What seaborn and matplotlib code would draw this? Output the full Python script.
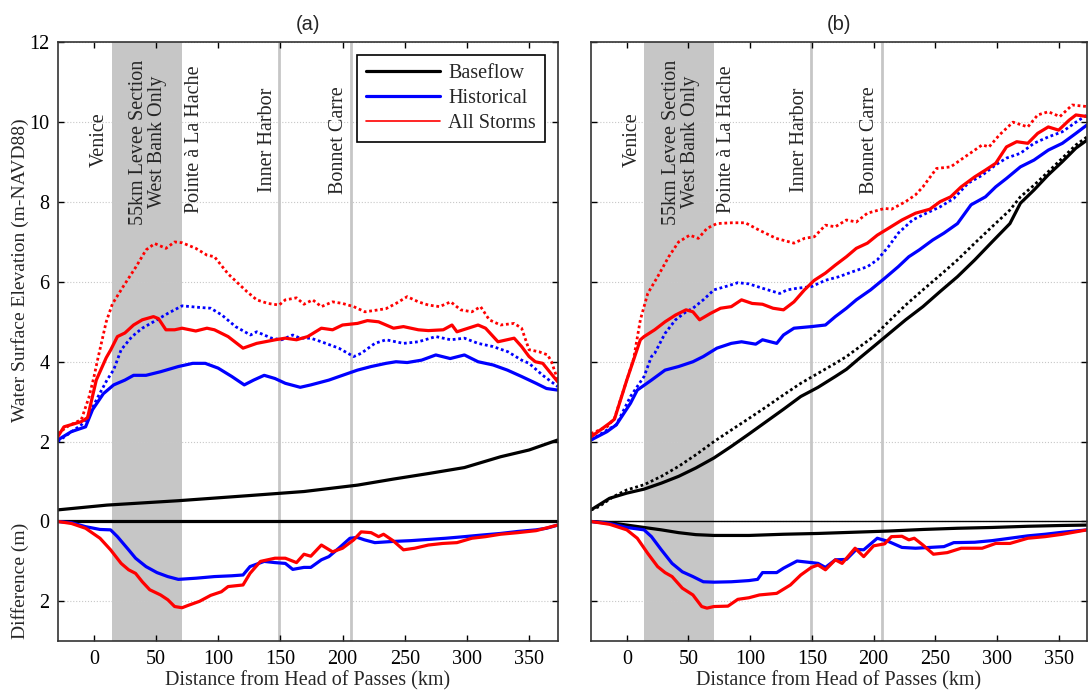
import matplotlib
matplotlib.use("Agg")
import matplotlib.pyplot as plt
from matplotlib.lines import Line2D
import seaborn as sns

# ---- panel (a) : water surface elevation (m-NAVD88) vs distance (km) ----
a_red_dot_km = [-29, -20, -10, -4, 0, 3, 10, 15, 19, 24, 34, 42, 49, 58, 65, 71, 82, 91, 97, 108,
                123, 131, 140, 149, 154, 163, 169, 176, 183, 192, 200, 209, 218, 229, 235, 243, 252, 261, 269, 278,
                287, 295, 304, 311, 318, 327, 338, 344, 350, 358, 365, 368, 373]
a_red_dot_m = [2.2, 2.4, 2.55, 3.1, 3.6, 4.04, 5.0, 5.45, 5.65, 5.9, 6.38, 6.8, 6.96, 6.84, 7.0, 6.98, 6.84, 6.67, 6.63, 6.2,
               5.76, 5.55, 5.46, 5.42, 5.55, 5.6, 5.44, 5.55, 5.38, 5.5, 5.46, 5.38, 5.25, 5.3, 5.33, 5.46, 5.63, 5.5, 5.42, 5.38,
               5.5, 5.3, 5.25, 5.38, 5.05, 4.92, 4.96, 4.84, 4.3, 4.25, 4.17, 4.0, 3.55]

a_red_km = [-29, -24, -10, -5, 2, 10, 13.5, 19, 25, 32, 39, 48, 52, 58, 65, 71, 82, 91, 97, 108,
            120, 131, 146, 154, 163, 172, 183, 192, 200, 212, 220, 229, 241, 249, 261, 269, 281, 288, 292, 301,
            309, 315, 325, 338, 344, 350, 355, 361, 373]
a_red_m = [2.12, 2.37, 2.5, 2.6, 3.54, 4.1, 4.29, 4.63, 4.72, 4.92, 5.05, 5.13, 5.08, 4.8, 4.8, 4.84, 4.77, 4.84, 4.8, 4.63,
           4.34, 4.46, 4.55, 4.59, 4.55, 4.63, 4.84, 4.8, 4.92, 4.96, 5.03, 5.0, 4.84, 4.88, 4.8, 4.78, 4.8, 4.92, 4.75, 4.84,
           4.92, 4.84, 4.5, 4.59, 4.38, 4.13, 4.0, 3.96, 3.5]

a_blue_dot_km = [-29, -10, -5, 3, 10.6, 16, 22, 30.7, 39, 48, 59.5, 71, 85, 94, 103, 114, 126, 131, 143, 151,
                 160, 166, 174.5, 183, 197, 209, 215, 226, 235, 249, 261, 275, 287, 298, 309, 321, 333, 344, 350, 361, 373]
a_blue_dot_m = [2.0, 2.42, 2.6, 3.1, 3.54, 3.8, 4.3, 4.63, 4.84, 5.0, 5.21, 5.4, 5.36, 5.34, 5.17, 4.88, 4.67, 4.75, 4.59, 4.55,
                4.67, 4.59, 4.59, 4.5, 4.34, 4.13, 4.21, 4.46, 4.55, 4.46, 4.5, 4.63, 4.55, 4.59, 4.46, 4.38, 4.25, 4.04, 3.96, 3.66, 3.38]

a_blue_km = [-29, -18, -6.6, -1, 7.7, 16, 25, 32, 42, 53.7, 68, 79.6, 89.6, 100, 111, 121, 128.5, 137, 145.7, 154,
             166, 174.5, 189, 200, 212, 223, 235, 243, 252, 263.6, 275, 286.6, 298, 309, 321, 332.6, 344, 355.6, 364, 373]
a_blue_m = [2.04, 2.25, 2.37, 2.8, 3.2, 3.42, 3.54, 3.66, 3.66, 3.75, 3.88, 3.96, 3.96, 3.84, 3.63, 3.42, 3.54, 3.66, 3.58, 3.46,
            3.36, 3.42, 3.54, 3.66, 3.79, 3.88, 3.96, 4.0, 3.98, 4.04, 4.17, 4.08, 4.17, 4.0, 3.92, 3.79, 3.63, 3.46, 3.33, 3.29]

a_base_km = [-29, 10.6, 68, 125.6, 169, 212, 240.6, 269, 298, 327, 350, 373]
a_base_m = [0.29, 0.41, 0.52, 0.65, 0.75, 0.91, 1.06, 1.2, 1.35, 1.62, 1.79, 2.04]

# differences (m), drawn downward from 0
a_base_diff_km = [-29, 373]
a_base_diff = [0.0, 0.0]

a_blue_diff_km = [-29, -18, -6.6, 5, 13.5, 19, 28, 33.6, 42, 50.8, 59.5, 68, 82.5, 97, 111, 120, 125.6, 137, 145.7, 154,
                  160, 169, 174.5, 183, 189, 197, 206, 212, 217.6, 226, 240.6, 255, 269, 283, 298, 312, 327, 341, 355.6, 364, 373]
a_blue_diff = [0, 0.03, 0.13, 0.2, 0.21, 0.38, 0.71, 0.92, 1.13, 1.28, 1.38, 1.45, 1.42, 1.38, 1.36, 1.34, 1.13, 1.0, 1.03, 1.05,
               1.2, 1.15, 1.15, 0.96, 0.88, 0.67, 0.42, 0.4, 0.46, 0.53, 0.5, 0.48, 0.45, 0.42, 0.38, 0.34, 0.3, 0.25, 0.21, 0.17, 0.09]

a_red_diff_km = [-29, -18, -6.6, 5, 13.5, 22, 28, 33.6, 39, 45, 53.7, 59.5, 65, 71, 76, 85, 94, 102.6, 108, 120,
                 125.6, 134, 145.7, 154, 163, 169, 174.5, 183, 192, 200, 209, 215, 223, 229, 233, 240.6, 249, 258, 269, 280.6,
                 292, 304, 315, 327, 341, 355.6, 373]
a_red_diff = [0, 0.05, 0.17, 0.42, 0.71, 1.05, 1.21, 1.3, 1.51, 1.71, 1.84, 1.96, 2.13, 2.16, 2.1, 2.0, 1.85, 1.76, 1.63, 1.59,
              1.3, 1.0, 0.92, 0.92, 1.03, 0.82, 0.87, 0.59, 0.76, 0.67, 0.46, 0.26, 0.28, 0.38, 0.32, 0.48, 0.71, 0.67, 0.59, 0.55,
              0.53, 0.42, 0.38, 0.32, 0.28, 0.23, 0.09]

# ---- panel (b) ----
b_red_dot_km = [-29, -16, -10, 0, 5.6, 11, 17, 25, 34, 42, 51, 58, 65, 73, 85, 96, 107, 121, 135.5, 144,
                152, 161, 169, 178, 186, 195, 209, 214.5, 226, 234, 240, 251, 262.5, 274, 282, 288, 293.6, 302, 313, 325,
                333, 341.6, 351, 361, 373]
b_red_dot_m = [2.2, 2.37, 2.58, 3.54, 4.08, 5.05, 5.71, 6.13, 6.63, 7.0, 7.17, 7.09, 7.34, 7.46, 7.48, 7.48, 7.3, 7.09, 6.97, 7.09,
               7.13, 7.42, 7.38, 7.55, 7.5, 7.72, 7.84, 7.82, 8.01, 8.18, 8.38, 8.84, 8.88, 9.13, 9.3, 9.43, 9.38, 9.68, 10.0, 9.88,
               10.18, 10.26, 10.14, 10.43, 10.39]

b_red_km = [-29, -14, -10, 0, 11, 14, 22.6, 31, 39.5, 48, 53.6, 59, 67.8, 76, 84.7, 93, 101.6, 110, 118.5, 127,
            135.5, 144, 152, 161, 169, 178, 186, 195, 203, 212, 223, 234, 245.6, 254, 262.5, 271, 282, 290.7, 299, 307.7,
            316, 325, 333, 341.6, 350, 358.5, 364, 373]
b_red_m = [2.12, 2.46, 2.56, 3.54, 4.55, 4.63, 4.8, 5.0, 5.17, 5.3, 5.25, 5.05, 5.21, 5.34, 5.38, 5.55, 5.46, 5.44, 5.34, 5.3,
           5.5, 5.8, 6.04, 6.22, 6.42, 6.63, 6.84, 6.97, 7.17, 7.34, 7.55, 7.72, 7.82, 8.01, 8.13, 8.38, 8.63, 8.8, 8.97, 9.38,
           9.51, 9.47, 9.72, 9.88, 9.8, 10.05, 10.18, 10.14]

b_blue_dot_km = [-29, -16, -8.5, 3, 14, 20, 22.6, 31, 39.5, 48, 53.6, 62, 70.6, 82, 90, 99, 110, 124, 130, 138,
                 149.6, 161, 172, 183.5, 195, 203, 212, 220, 231.6, 242.8, 254, 265, 276.6, 288, 299, 307.7, 319, 330, 341.6, 353,
                 364, 373]
b_blue_dot_m = [2.04, 2.29, 2.42, 3.13, 3.63, 4.13, 4.21, 4.71, 5.05, 5.25, 5.34, 5.55, 5.8, 5.9, 5.98, 5.95, 5.84, 5.71, 5.8, 5.84,
                5.88, 6.04, 6.13, 6.26, 6.38, 6.55, 6.88, 7.22, 7.55, 7.72, 7.88, 8.09, 8.47, 8.67, 8.93, 9.1, 9.22, 9.47, 9.63, 9.76,
                10.0, 10.18]

b_blue_km = [-29, -16, -8.5, 3, 8.5, 20, 31, 42, 53.6, 62, 73, 84.7, 93, 104.5, 110, 121.5, 127, 135.5, 149.6, 161,
             169, 178, 186, 197.6, 209, 220, 228.6, 237, 248, 257, 268, 279, 290.7, 299, 307.7, 319, 330, 341.6, 353, 364, 373]
b_blue_m = [2.04, 2.25, 2.42, 2.96, 3.29, 3.54, 3.79, 3.88, 4.0, 4.13, 4.34, 4.46, 4.5, 4.44, 4.55, 4.46, 4.67, 4.84, 4.88, 4.92,
            5.13, 5.34, 5.55, 5.8, 6.09, 6.38, 6.63, 6.8, 7.05, 7.22, 7.46, 7.93, 8.13, 8.38, 8.59, 8.88, 9.05, 9.3, 9.47, 9.72, 9.93]

b_base_dot_km = [-29, -22.6, -11, 0, 14, 28, 42, 56, 70.6, 84.7, 99, 113, 127, 141, 155, 169, 178, 189, 200, 212,
                 226, 240, 254, 268, 282, 296, 310.5, 319, 330, 341.6, 353, 364, 373]
b_base_dot_m = [0.29, 0.37, 0.62, 0.79, 0.92, 1.13, 1.38, 1.67, 2.0, 2.29, 2.58, 2.87, 3.17, 3.46, 3.71, 3.96, 4.13, 4.38, 4.63, 5.0,
                5.42, 5.8, 6.17, 6.55, 6.97, 7.38, 7.8, 8.13, 8.42, 8.76, 9.1, 9.43, 9.63]

b_base_km = [-29, -14, 0, 14, 28, 42, 56, 70.6, 84.7, 99, 113, 127, 141, 149.6, 155, 169, 178, 189, 200, 212,
             226, 240, 254, 268, 282, 296, 310.5, 319, 330, 341.6, 353, 364, 373]
b_base_m = [0.29, 0.58, 0.71, 0.81, 0.96, 1.13, 1.34, 1.59, 1.88, 2.19, 2.5, 2.81, 3.13, 3.27, 3.36, 3.63, 3.81, 4.1, 4.38, 4.69,
            5.05, 5.38, 5.76, 6.13, 6.55, 7.0, 7.46, 7.97, 8.3, 8.68, 9.01, 9.35, 9.55]

b_base_diff_km = [-29, -14, 0, 14, 28, 42, 56, 70.6, 99, 127, 155, 183.5, 212, 240, 268, 296, 325, 353, 373]
b_base_diff = [0, 0.03, 0.09, 0.15, 0.21, 0.28, 0.33, 0.35, 0.35, 0.32, 0.3, 0.27, 0.24, 0.2, 0.17, 0.15, 0.12, 0.1, 0.09]

b_blue_diff_km = [-29, -14, 0, 14, 20, 28, 36.7, 45, 53.6, 62, 70.6, 84.7, 99, 106, 110, 121.5, 127, 138, 149.6, 155,
                  161, 169, 178, 186, 192, 203, 212, 223, 234, 245.6, 257, 265, 282, 296, 310.5, 325, 339, 353, 373]
b_blue_diff = [0, 0.05, 0.15, 0.21, 0.38, 0.71, 1.05, 1.26, 1.38, 1.51, 1.52, 1.51, 1.48, 1.45, 1.28, 1.28, 1.17, 0.99, 1.03, 1.05,
               1.15, 0.96, 0.95, 0.7, 0.71, 0.42, 0.5, 0.65, 0.67, 0.65, 0.63, 0.53, 0.52, 0.48, 0.42, 0.36, 0.32, 0.27, 0.21]

b_red_diff_km = [-29, -14, 0, 8.5, 17, 25, 31, 36.7, 45, 53.6, 60.7, 65, 70.6, 82, 90, 99, 107.5, 121.5, 132.6, 141,
                 149.6, 155, 161, 169, 174.5, 185, 192, 200, 209, 214.5, 223, 228.6, 233, 240, 248.5, 259.7, 271, 288, 299, 310.5,
                 325, 339, 353, 373]
b_red_diff = [0, 0.07, 0.21, 0.42, 0.8, 1.13, 1.28, 1.38, 1.67, 1.84, 2.13, 2.17, 2.13, 2.12, 1.95, 1.91, 1.84, 1.8, 1.59, 1.34,
              1.15, 1.09, 1.21, 0.96, 1.05, 0.67, 0.88, 0.61, 0.56, 0.38, 0.37, 0.46, 0.42, 0.59, 0.82, 0.78, 0.67, 0.67, 0.55, 0.55,
              0.42, 0.38, 0.32, 0.21]

# ---- annotations ----
levee_band_km = [14.3, 70.8]
marker_lines_km = [149, 207]
place_names = ["Venice", "55km Levee Section\nWest Bank Only", "Pointe à La Hache", "Inner Harbor", "Bonnet Carre"]
place_km = [4.8, 43.6, 81, 140, 197]
place_text_base = [8.88, 7.43, 7.73, 8.25, 8.2]

y_ticks = [12, 10, 8, 6, 4, 2, 0, -2]
y_tick_labels = ["12", "10", "8", "6", "4", "2", "0", "2"]
x_ticks = [0, 50, 100, 150, 200, 250, 300, 350]

BLUE = "#0000ff"
RED = "#ff0000"
DOT = (0, (1, 1))
FS = 14.5
LW = 2.3

sns.set_style("ticks")
plt.rcParams["font.family"] = ["Liberation Serif", "DejaVu Serif"]


def line(ax, km, vals, color, lw, ls="-"):
    sns.lineplot(x=km, y=vals, ax=ax, color=color, linewidth=lw, linestyle=ls,
                 estimator=None, sort=False, legend=False)


def setup(ax, title, show_ylabels):
    ax.set_xlim(-29, 373)
    ax.set_ylim(-3, 12)
    ax.axvspan(levee_band_km[0], levee_band_km[1], color="#c6c6c6", lw=0, zorder=0)
    for xk in marker_lines_km:
        ax.axvline(xk, color="#c6c6c6", lw=2, zorder=0.5)
    ax.grid(axis="y", ls=":", color="#c8c8c8", lw=0.8)
    ax.axhline(0, color="black", lw=1, zorder=1.5)
    ax.set_xticks(x_ticks)
    ax.set_yticks(y_ticks)
    ax.set_yticklabels(y_tick_labels if show_ylabels else [])
    ax.tick_params(direction="in", top=True, right=True, length=4, width=1,
                   labelsize=FS, pad=6, colors="black")
    for s in ax.spines.values():
        s.set_color("#333333")
        s.set_linewidth(1.2)
    ax.set_xlabel("Distance from Head of Passes (km)", fontsize=FS, labelpad=2)
    ax.set_ylabel("")
    ax.set_title(title, family=["Liberation Sans", "DejaVu Sans"], fontsize=14.5, pad=9)
    for name, xk, yb in zip(place_names, place_km, place_text_base):
        ax.text(xk, yb, name, rotation=90, ha="center", va="bottom",
                multialignment="center", fontsize=FS, linespacing=1.0)


fig = plt.figure(figsize=(10.89, 7.0), dpi=100)
ax_a = fig.add_axes([0.053, 0.0839, 0.4591, 0.8557])
ax_b = fig.add_axes([0.5427, 0.0839, 0.4555, 0.8557])

# panel (a)
setup(ax_a, "(a)", True)
line(ax_a, a_base_diff_km, [-d for d in a_base_diff], "black", LW)
line(ax_a, a_blue_diff_km, [-d for d in a_blue_diff], BLUE, LW)
line(ax_a, a_red_diff_km, [-d for d in a_red_diff], RED, LW)
line(ax_a, a_base_km, a_base_m, "black", LW)
line(ax_a, a_blue_dot_km, a_blue_dot_m, BLUE, 2.0, DOT)
line(ax_a, a_blue_km, a_blue_m, BLUE, LW)
line(ax_a, a_red_dot_km, a_red_dot_m, RED, 2.0, DOT)
line(ax_a, a_red_km, a_red_m, RED, LW)
ax_a.text(-59.6, 6.3, "Water Surface Elevation (m-NAVD88)", rotation=90,
          ha="center", va="center", fontsize=14)
ax_a.text(-59.6, -1.5, "Difference (m)", rotation=90, ha="center", va="center", fontsize=14)

handles = [Line2D([], [], color="black", lw=LW),
           Line2D([], [], color=BLUE, lw=LW),
           Line2D([], [], color=RED, lw=1.2)]
leg = ax_a.legend(handles, ["Baseflow", "Historical", "All Storms"], loc="upper right",
                  bbox_to_anchor=(0.9746, 0.9788), borderaxespad=0, fontsize=FS,
                  handlelength=3.7, handletextpad=0.4, labelspacing=0.28,
                  borderpad=0.45, fancybox=False, framealpha=1)
leg.get_frame().set_edgecolor("black")
leg.get_frame().set_linewidth(1.2)

# panel (b)
setup(ax_b, "(b)", False)
line(ax_b, b_base_diff_km, [-d for d in b_base_diff], "black", LW)
line(ax_b, b_blue_diff_km, [-d for d in b_blue_diff], BLUE, LW)
line(ax_b, b_red_diff_km, [-d for d in b_red_diff], RED, LW)
line(ax_b, b_base_dot_km, b_base_dot_m, "black", 2.0, DOT)
line(ax_b, b_base_km, b_base_m, "black", LW)
line(ax_b, b_blue_dot_km, b_blue_dot_m, BLUE, 2.0, DOT)
line(ax_b, b_blue_km, b_blue_m, BLUE, LW)
line(ax_b, b_red_dot_km, b_red_dot_m, RED, 2.0, DOT)
line(ax_b, b_red_km, b_red_m, RED, LW)

fig.savefig("out.png", dpi=100)
